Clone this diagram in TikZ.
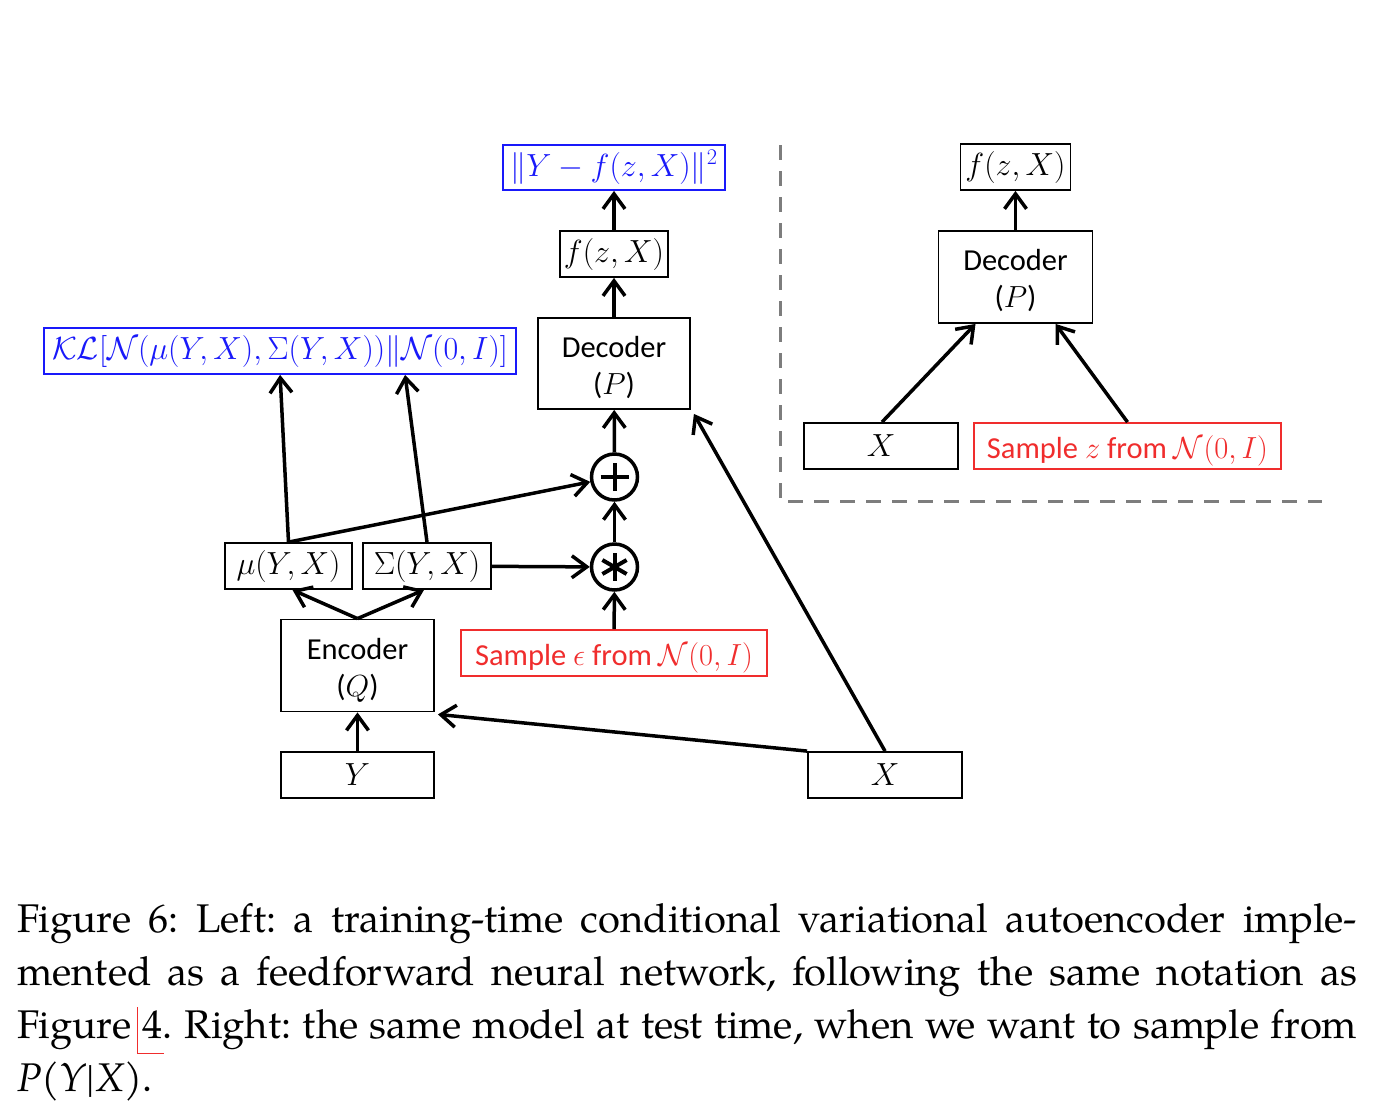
\RequirePackage{fix-cm}
\documentclass[tikz,border=0pt]{standalone}
\usepackage{amsmath}
\usepackage{fontspec}
\newfontfamily\calib{Carlito}
\newfontfamily\palfont{TeX Gyre Pagella}
\usetikzlibrary{arrows.meta,calc}
\definecolor{bl}{RGB}{25,25,250}
\definecolor{rd}{RGB}{240,45,45}
\definecolor{gr}{RGB}{125,125,125}
\newcommand{\lowr}[1]{\raisebox{-5pt}[\height][\depth]{#1}}
\newcommand{\twoline}[2]{\lowr{\begin{tabular}{@{}c@{}}#1\\#2\end{tabular}}}
\tikzset{
  box/.style={draw=black, line width=1.8pt, inner sep=0pt, align=center},
  mbox/.style={box, font=\fontsize{32}{38}\selectfont},
  tbox/.style={box, font=\calib\fontsize{30.5}{37}\selectfont},
  bluebox/.style={mbox, draw=bl, text=bl},
  redbox/.style={tbox, draw=rd, text=rd},
  opnode/.style={circle, draw, line width=3.5pt, minimum size=46pt, inner sep=0pt},
  arr/.style={line width=3.5pt, -{Straight Barb[length=15pt,width=22pt]}},
  glyph/.style={line width=4pt},
  captxt/.style={anchor=base west, inner sep=0pt, font=\palfont\fontsize{40}{52}\selectfont\frenchspacing},
  dashline/.style={draw=gr, line width=3pt, dash pattern=on 15pt off 11pt}
}
\begin{document}
\begin{tikzpicture}[x=1pt,y=-1pt]
\fill[white] (0,0) rectangle (1378,1112);
\useasboundingbox (0,0) rectangle (1378,1112);

% ---------- left: training time ----------
\node[bluebox, minimum width=222pt, minimum height=45pt] (loss) at (614,167.5) {$\|Y-f(z,X)\|^2$};
\node[mbox, minimum width=108pt, minimum height=46pt] (fl) at (614,254) {$f(z,X)$};
\node[tbox, minimum width=152pt, minimum height=91pt] (decl) at (614,363.5) {\twoline{Decoder}{($P$)}};
\node[bluebox, minimum width=472pt, minimum height=46pt] (kl) at (280,351) {$\mathcal{KL}[\mathcal{N}(\mu(Y,X),\Sigma(Y,X))\|\mathcal{N}(0,I)]$};
\node[opnode] (plus) at (614.5,477) {};
\node[opnode] (star) at (614.5,567) {};
\node[mbox, minimum width=127pt, minimum height=46pt] (mu) at (288.5,566) {$\mu(Y,X)$};
\node[mbox, minimum width=128pt, minimum height=46pt] (sig) at (427,566) {$\Sigma(Y,X)$};
\node[tbox, minimum width=153pt, minimum height=92pt] (enc) at (357.5,665.5) {\twoline{Encoder}{($Q$)}};
\node[redbox, minimum width=306pt, minimum height=46pt] (eps) at (614,653) {\lowr{Sample $\epsilon$ from $\mathcal{N}(0,I)$}};
\node[mbox, minimum width=153pt, minimum height=46pt] (y) at (357.5,775) {$Y$};
\node[mbox, minimum width=154pt, minimum height=46pt] (xl) at (885,775) {$X$};

% operator glyphs
\draw[glyph] ([xshift=-14pt]plus.center) -- ([xshift=14pt]plus.center);
\draw[glyph] ([yshift=-14pt]plus.center) -- ([yshift=14pt]plus.center);
\draw[glyph] ([shift={(90:14pt)}]star.center) -- ([shift={(270:14pt)}]star.center);
\draw[glyph] ([shift={(30:14pt)}]star.center) -- ([shift={(210:14pt)}]star.center);
\draw[glyph] ([shift={(150:14pt)}]star.center) -- ([shift={(330:14pt)}]star.center);

% connectors
\draw[arr] (fl) -- (loss);
\draw[arr] (decl) -- (fl);
\draw[arr] (plus) -- (decl);
\draw[arr] (star) -- (plus);
\draw[arr] (eps) -- (star);
\draw[arr] (sig) -- (star);
\draw[arr] (mu.north) -- (plus);
\draw[arr] (mu.north) -- ([xshift=237pt]kl.south west);
\draw[arr] (sig.north) -- ([xshift=362pt]kl.south west);
\draw[arr] (enc.north) -- ([xshift=4pt]mu.south);
\draw[arr] (enc.north) -- ([xshift=-3pt]sig.south);
\draw[arr] (y) -- (enc);
\draw[arr] (xl.north west) -- ([shift={(3pt,-2pt)}]enc.south east);
\draw[arr] (xl.north) -- ([shift={(3pt,-4pt)}]decl.south east);

% ---------- right: test time ----------
\draw[dashline] (780,145) -- (780,501) -- (1322,501);
\node[mbox, minimum width=110pt, minimum height=46pt] (fr) at (1015.5,167) {$f(z,X)$};
\node[tbox, minimum width=154pt, minimum height=92pt] (decr) at (1015.5,277) {\twoline{Decoder}{($P$)}};
\node[mbox, minimum width=154pt, minimum height=46pt] (xr) at (881,446) {$X$};
\node[redbox, minimum width=307pt, minimum height=46pt] (zs) at (1127.5,446) {\lowr{Sample $z$ from $\mathcal{N}(0,I)$}};
\draw[arr] (decr) -- (fr);
\draw[arr] ([xshift=1pt]xr.north) -- ([xshift=-40pt]decr.south);
\draw[arr] (zs.north) -- ([xshift=40pt]decr.south);

% ---------- caption ----------
\node[captxt] (c1) at (17,932) {\makebox[1340pt][s]{Figure 6: Left: a training-time conditional variational autoencoder imple-}};
\node[captxt] (c2) at (17,985) {\makebox[1340pt][s]{mented as a feedforward neural network, following the same notation as}};
\node[captxt] (c3) at (17,1038) {\makebox[1340pt][s]{Figure 4. Right: the same model at test time, when we want to sample from}};
\node[captxt] (c4) at (17,1091) {\textit{P}(\textit{Y}|\textit{X}).};
\draw[rd, line width=1pt] (137,1007) -- (137,1053) -- (164,1053);
\end{tikzpicture}
\end{document}
